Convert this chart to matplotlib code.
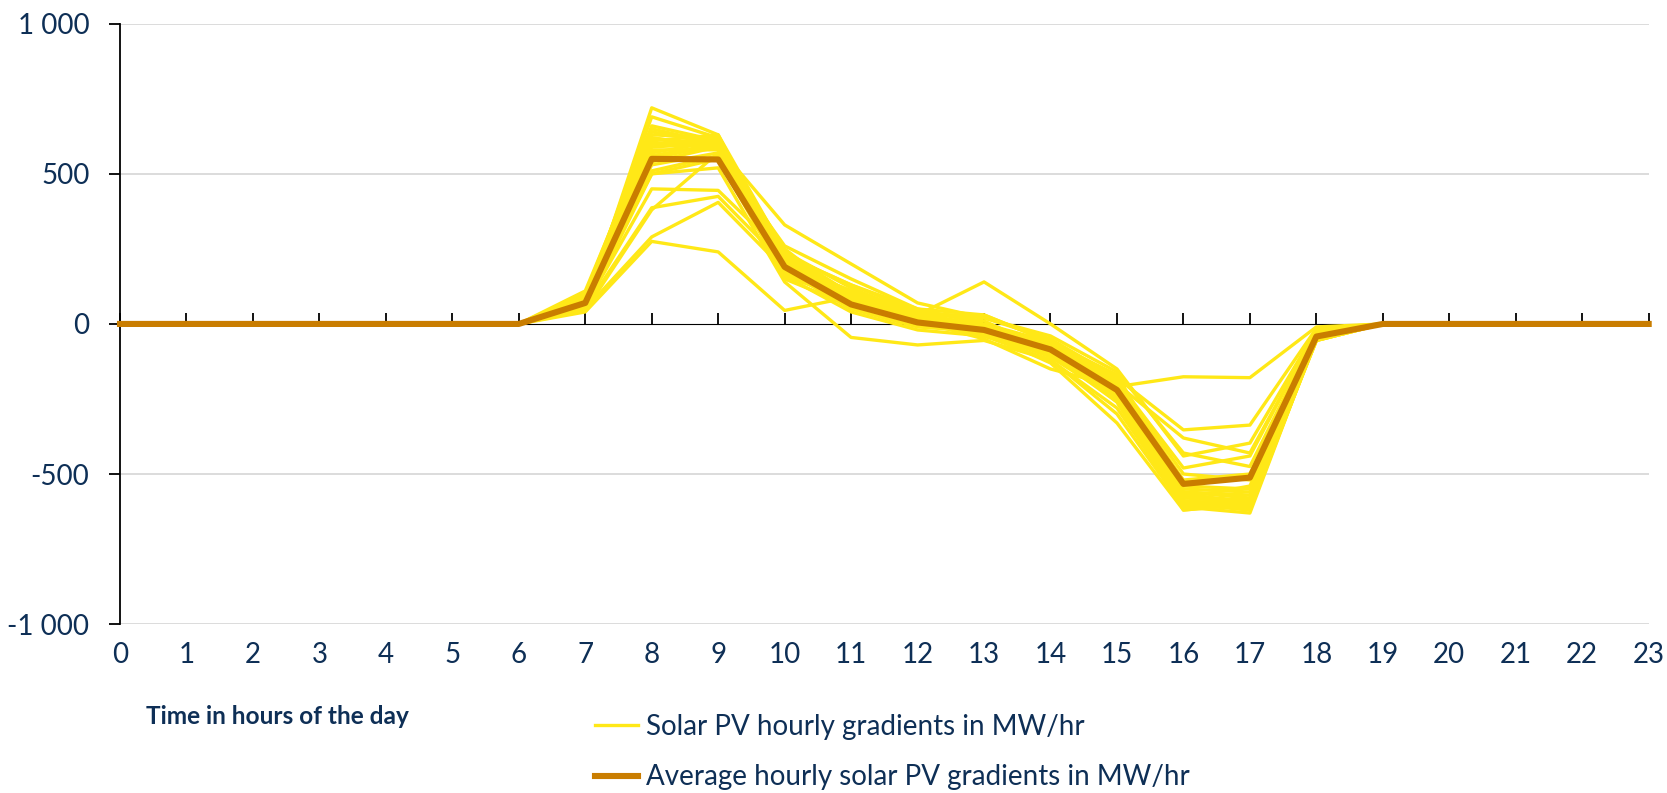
import matplotlib
matplotlib.use("Agg")
import matplotlib.pyplot as plt
from matplotlib.lines import Line2D

plt.rcParams['font.family'] = ['Lato', 'DejaVu Sans']

# Hours of the day
hours = list(range(24))
hour_labels = [str(h) for h in hours]

# Daily solar PV gradients (MW/hr) for hours 7..18; all other hours are zero
active_hours = list(range(7, 19))
day01 = [60, 720, 630, 240, 120, 30, -20, -90, -240, -600, -620, -40]
day02 = [80, 690, 620, 230, 100, 20, -30, -100, -260, -610, -630, -45]
day03 = [100, 660, 610, 220, 90, 10, -40, -80, -230, -590, -600, -50]
day04 = [110, 640, 600, 250, 80, 0, -20, -70, -200, -580, -590, -40]
day05 = [90, 620, 590, 210, 70, 15, -10, -60, -180, -570, -610, -55]
day06 = [70, 610, 630, 200, 110, 40, 10, -90, -220, -620, -600, -30]
day07 = [85, 600, 620, 190, 60, 5, -30, -110, -250, -600, -580, -45]
day08 = [75, 590, 600, 180, 50, -10, -25, -100, -240, -590, -620, -50]
day09 = [65, 580, 580, 170, 95, 25, -15, -95, -210, -560, -570, -40]
day10 = [95, 570, 610, 230, 130, 50, 30, -60, -170, -550, -560, -35]
day11 = [55, 560, 590, 160, 40, -20, -40, -120, -280, -600, -590, -55]
day12 = [80, 550, 600, 200, 90, 30, -10, -80, -200, -540, -550, -40]
day13 = [60, 530, 570, 150, 60, 10, -20, -90, -230, -580, -540, -45]
day14 = [70, 510, 560, 240, 100, 20, -30, -70, -190, -500, -520, -35]
day15 = [50, 500, 520, 140, -45, -70, -55, -120, -300, -610, -600, -50]
day16 = [100, 620, 590, 330, 200, 70, 20, -40, -160, -430, -475, -30]
day17 = [45, 380, 570, 260, 150, 50, 0, -60, -190, -480, -440, -20]
day18 = [40, 275, 240, 45, 90, 20, -40, -100, -250, -560, -580, -50]
day19 = [50, 290, 405, 180, 80, 10, -30, -130, -330, -620, -600, -55]
day20 = [55, 387, 425, 200, 110, 30, 30, -60, -200, -380, -430, -25]
day21 = [60, 450, 445, 230, 130, 40, 20, -50, -180, -353, -337, -15]
day22 = [70, 500, 550, 160, 80, 30, 140, 0, -150, -440, -397, -20]
day23 = [75, 600, 610, 180, 70, 10, -50, -150, -209, -176, -179, -10]
day24 = [85, 650, 600, 200, 60, 0, -30, -80, -260, -590, -600, -50]
day25 = [65, 600, 590, 170, 85, 15, -20, -90, -230, -570, -590, -45]
day26 = [90, 630, 620, 210, 100, 25, -35, -100, -240, -600, -610, -55]
day27 = [60, 560, 600, 190, 70, 10, -25, -85, -200, -520, -500, -40]
day28 = [80, 540, 590, 220, 95, 35, -5, -75, -220, -560, -610, -45]

days = [day01, day02, day03, day04, day05, day06, day07, day08, day09, day10,
        day11, day12, day13, day14, day15, day16, day17, day18, day19, day20,
        day21, day22, day23, day24, day25, day26, day27, day28]

# Average hourly gradient (MW/hr) for every hour of the day
average = [0, 0, 0, 0, 0, 0, 0, 70, 550, 548, 190, 65, 5, -20, -85, -220,
           -533, -512, -42, 0, 0, 0, 0, 0]

y_ticks = [-1000, -500, 0, 500, 1000]
y_labels = ["-1 000", "-500", "0", "500", "1 000"]

legend_labels = ["Solar PV hourly gradients in MW/hr",
                 "Average hourly solar PV gradients in MW/hr"]
x_title = "Time in hours of the day"

YELLOW = "#FFE817"
ORANGE = "#C97D00"
NAVY = "#0E2F56"
GRID = "#D9D9D9"

fig = plt.figure(figsize=(16.67, 7.93), dpi=100)
ax = fig.add_axes([0.072, 0.213, 0.917, 0.757])

def full_day(vals):
    series = [0] * 24
    for h, v in zip(active_hours, vals):
        series[h] = v
    return series

for d in days:
    ax.plot(hours, full_day(d), color=YELLOW, lw=2.4, zorder=3, clip_on=False)
ax.plot(hours, average, color=ORANGE, lw=4.4, zorder=4, clip_on=False)

ax.set_xlim(0, 23)
ax.set_ylim(-1000, 1000)
ax.set_yticks(y_ticks)
ax.set_yticklabels(y_labels)
ax.set_xticks(hours)
ax.set_xticklabels(hour_labels)

for y in [-1000, -500, 500, 1000]:
    ax.axhline(y, color=GRID, lw=1.3, zorder=1)

for s in ['top', 'right', 'bottom']:
    ax.spines[s].set_visible(False)
ax.spines['left'].set_color('black')
ax.spines['left'].set_linewidth(1.3)

ax.tick_params(axis='y', direction='out', length=8, width=1.3, color='black',
               labelsize=20, labelcolor=NAVY, pad=14)
ax.tick_params(axis='x', length=0, labelsize=20, labelcolor=NAVY, pad=13)

# Zero line carrying the hour tick marks
zero_axis = ax.secondary_xaxis(0.5)
zero_axis.set_xticks(hours)
zero_axis.set_xticklabels([])
zero_axis.tick_params(direction='out', length=8, width=1.3, color='black')
zero_axis.spines['bottom'].set_linewidth(1.3)
zero_axis.spines['bottom'].set_color('black')

fig.text(146 / 1667, 1 - 716 / 793, x_title, fontsize=17.6, fontweight='bold',
         color=NAVY, va='center', ha='left')

handles = [Line2D([], [], color=YELLOW, lw=2.4),
           Line2D([], [], color=ORANGE, lw=4.4)]
fig.legend(handles, legend_labels, loc='center left',
           bbox_to_anchor=(595 / 1667, 1 - 752 / 793), frameon=False,
           fontsize=20, labelcolor=NAVY, handlelength=1.55, handletextpad=0.3,
           labelspacing=0.9, borderpad=0, borderaxespad=0)

fig.savefig("out.png", dpi=100)
